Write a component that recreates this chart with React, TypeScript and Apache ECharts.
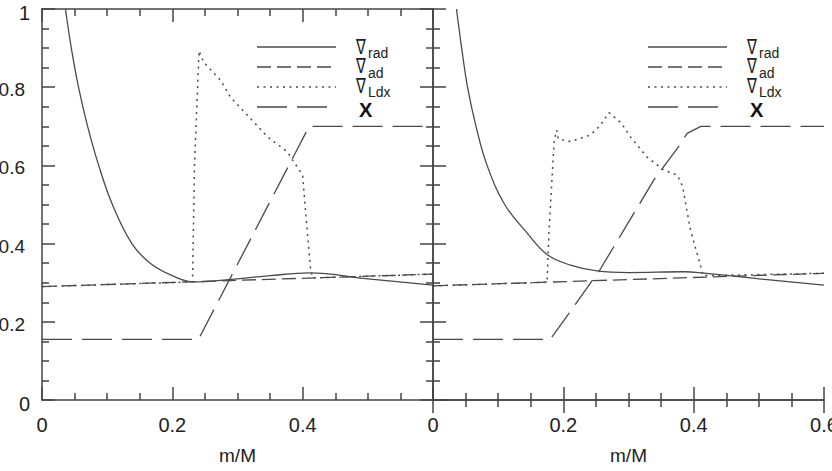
import React, { useEffect, useRef } from "react";
import * as echarts from "echarts";

// Mass coordinate m/M and gradient values, left model
const leftRad: [number, number][] = [
  [0.036, 1.0], [0.045, 0.9], [0.056, 0.8], [0.07, 0.7], [0.087, 0.6],
  [0.108, 0.5], [0.138, 0.4], [0.166, 0.35], [0.2, 0.318], [0.232, 0.302],
  [0.3, 0.31], [0.35, 0.318], [0.41, 0.325], [0.5, 0.31], [0.6, 0.294],
];
const leftAd: [number, number][] = [[0, 0.29], [0.6, 0.322]];
const leftLdx: [number, number][] = [
  [0, 0.29], [0.231, 0.302], [0.234, 0.6], [0.241, 0.893], [0.248, 0.864],
  [0.274, 0.818], [0.289, 0.775], [0.32, 0.72], [0.346, 0.673], [0.377, 0.634],
  [0.382, 0.62], [0.4, 0.575], [0.405, 0.47], [0.412, 0.337], [0.415, 0.312],
  [0.6, 0.322],
];
const leftX: [number, number][] = [[0, 0.155], [0.24, 0.155], [0.41, 0.7], [0.6, 0.7]];

// Right model
const rightRad: [number, number][] = [
  [0.036, 1.0], [0.044, 0.9], [0.053, 0.8], [0.066, 0.7], [0.083, 0.6],
  [0.11, 0.5], [0.143, 0.43], [0.175, 0.372], [0.211, 0.345], [0.252, 0.33],
  [0.3, 0.326], [0.385, 0.328], [0.413, 0.325], [0.5, 0.31], [0.6, 0.294],
];
const rightAd: [number, number][] = [[0, 0.292], [0.6, 0.324]];
const rightLdx: [number, number][] = [
  [0, 0.292], [0.175, 0.301], [0.178, 0.43], [0.186, 0.665], [0.19, 0.69],
  [0.192, 0.668], [0.211, 0.661], [0.242, 0.678], [0.257, 0.703], [0.27, 0.735],
  [0.289, 0.708], [0.303, 0.673], [0.328, 0.622], [0.354, 0.588], [0.375, 0.575],
  [0.383, 0.546], [0.395, 0.435], [0.411, 0.341], [0.414, 0.318], [0.6, 0.324],
];
const rightX: [number, number][] = [
  [0, 0.155], [0.18, 0.155], [0.255, 0.33], [0.293, 0.435], [0.339, 0.563],
  [0.377, 0.648], [0.39, 0.682], [0.411, 0.7], [0.6, 0.7],
];

const legendNames = ["rad", "ad", "Ldx"];

const INK = "#444";
const CURVE = "#4a4a4a";
const FONT = "'Liberation Sans', Arial, sans-serif";

const GRID_TOP = 9;
const GRID_H = 391;
const GRID_W = 391;
const LEFT0 = 42;
const LEFT1 = LEFT0 + GRID_W;

const tickLine = { color: INK, width: 1.5 };

function xAxisFor(grid: number, bottom: boolean, showMax: boolean) {
  return {
    gridIndex: grid,
    type: "value",
    min: 0,
    max: 0.6,
    interval: 0.2,
    position: bottom ? "bottom" : "top",
    axisLine: { show: true, lineStyle: tickLine },
    axisTick: { show: true, inside: true, length: 13, lineStyle: tickLine },
    minorTick: { show: true, splitNumber: 4, length: 7, lineStyle: tickLine },
    splitLine: { show: false },
    axisLabel: bottom
      ? {
          show: true,
          showMaxLabel: showMax,
          margin: 15,
          fontSize: 20,
          fontFamily: FONT,
          color: "#222",
          formatter: (v: number) => String(+v.toFixed(1)),
        }
      : { show: false },
    name: bottom ? "m/M" : "",
    nameLocation: "middle",
    nameGap: 46,
    nameTextStyle: { fontSize: 19, fontFamily: FONT, color: "#222" },
  };
}

function yAxisFor(grid: number, pos: "left" | "right", labels: boolean) {
  return {
    gridIndex: grid,
    type: "value",
    min: 0,
    max: 1,
    interval: 0.2,
    position: pos,
    axisLine: { show: true, lineStyle: tickLine },
    axisTick: { show: true, inside: true, length: 13, lineStyle: tickLine },
    minorTick: { show: true, splitNumber: 4, length: 7, lineStyle: tickLine },
    splitLine: { show: false },
    axisLabel: labels
      ? {
          show: true,
          margin: 12,
          formatter: (v: number) => {
            const s = String(+v.toFixed(1));
            return v === 0 || v === 1 ? `{a|${s}}` : `{b|${s}}`;
          },
          rich: {
            a: { fontSize: 20, fontFamily: FONT, color: "#222", padding: [8, 0, 0, 0] },
            b: { fontSize: 19, fontFamily: FONT, color: "#222", padding: [5, 5, 0, 0] },
          },
        }
      : { show: false },
  };
}

function curve(data: [number, number][], xi: number, yi: number, type: any, width = 1.3, smooth = 0) {
  return {
    type: "line",
    data,
    xAxisIndex: xi,
    yAxisIndex: yi,
    showSymbol: false,
    symbol: "none",
    clip: true,
    silent: true,
    smooth,
    lineStyle: { color: CURVE, width, type },
  };
}

const styles: any[] = ["solid", [14, 6], [2, 4.5], [30, 10]];

function legendGraphics(offset: number) {
  const items: any[] = [];
  const rows = [47, 67, 87, 107];
  rows.forEach((y, i) => {
    items.push({
      type: "line",
      shape: { x1: 257 + offset, y1: y, x2: 336 + offset, y2: y },
      style: { stroke: CURVE, lineWidth: i === 2 ? 1.5 : 1.3, lineDash: i === 0 ? null : styles[i] },
      silent: true,
    });
  });
  legendNames.forEach((n, i) => {
    const cy = 46 + i * 19.5;
    items.push({
      type: "text",
      x: 356 + offset,
      y: cy,
      scaleX: 0.7,
      style: {
        text: "∇",
        fontSize: 21,
        fontFamily: "'DejaVu Sans', sans-serif",
        fill: "#222",
        textVerticalAlign: "middle",
      },
      silent: true,
    });
    items.push({
      type: "text",
      x: 368 + offset,
      y: cy + 7,
      style: {
        text: n,
        fontSize: 14,
        fontFamily: FONT,
        fill: "#222",
        textVerticalAlign: "middle",
      },
      silent: true,
    });
  });
  items.push({
    type: "text",
    x: 359 + offset,
    y: 110,
    style: {
      text: "X",
      fontSize: 20,
      fontWeight: "bold",
      fontFamily: FONT,
      fill: "#111",
      textVerticalAlign: "middle",
    },
    silent: true,
  });
  return items;
}

export default function App() {
  const ref = useRef<HTMLDivElement>(null);

  useEffect(() => {
    if (!ref.current) return;
    const chart = echarts.init(ref.current, undefined, { renderer: "svg" });
    chart.setOption({
      animation: false,
      backgroundColor: "#fff",
      grid: [
        { left: LEFT0, top: GRID_TOP, width: GRID_W, height: GRID_H, outerBoundsMode: "none", containLabel: false },
        { left: LEFT1, top: GRID_TOP, width: GRID_W, height: GRID_H, outerBoundsMode: "none", containLabel: false },
      ],
      xAxis: [
        xAxisFor(0, true, false),
        xAxisFor(0, false, false),
        xAxisFor(1, true, true),
        xAxisFor(1, false, false),
      ],
      yAxis: [yAxisFor(0, "left", true), yAxisFor(1, "left", false), yAxisFor(1, "right", false)],
      series: [
        curve(leftAd, 0, 0, styles[1]),
        curve(leftLdx, 0, 0, styles[2], 1.5),
        curve(leftX, 0, 0, styles[3]),
        curve(leftRad, 0, 0, styles[0], 1.3, 0.4),
        curve(rightAd, 2, 1, styles[1]),
        curve(rightLdx, 2, 1, styles[2], 1.5),
        curve(rightX, 2, 1, styles[3]),
        curve(rightRad, 2, 1, styles[0], 1.3, 0.4),
      ],
      graphic: [...legendGraphics(0), ...legendGraphics(GRID_W)],
    });
    return () => chart.dispose();
  }, []);

  return (
    <div
      ref={ref}
      style={{ position: "absolute", left: 0, top: 0, width: 832, height: 471, background: "#fff" }}
    />
  );
}
